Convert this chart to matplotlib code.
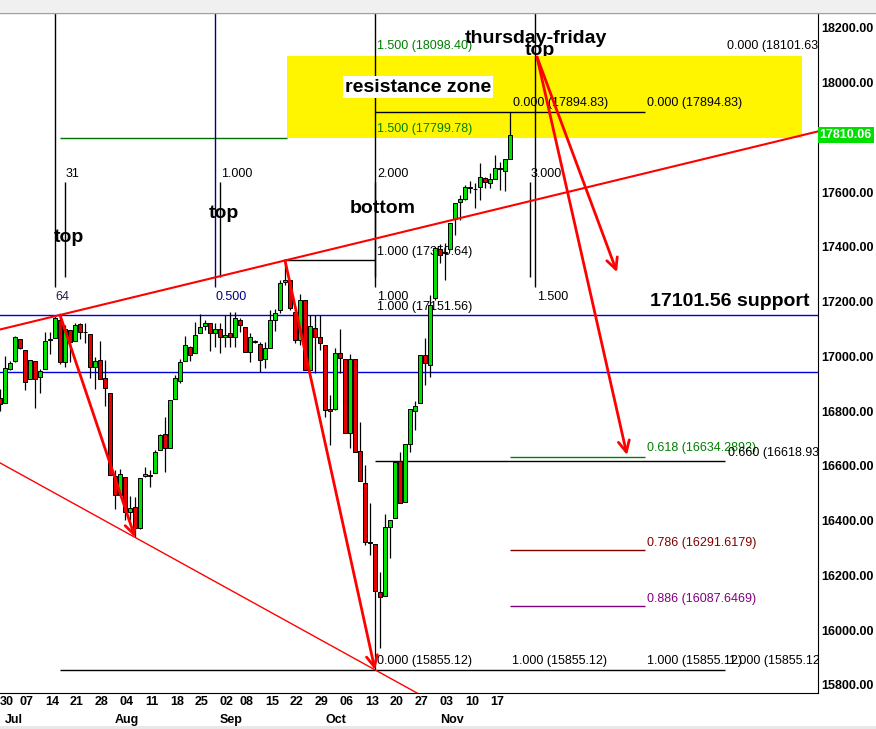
import numpy as np
import pandas as pd
import matplotlib
matplotlib.use("Agg")
import matplotlib.pyplot as plt
from matplotlib.patches import Rectangle
from matplotlib.transforms import blended_transform_factory

plt.rcParams['font.family'] = ['Liberation Sans', 'DejaVu Sans']

# daily candles, 30 Jun - 21 Nov (trading days only)
dates = pd.bdate_range("2014-06-30", "2014-11-21")
dates = dates[~dates.isin(pd.to_datetime(["2014-07-04", "2014-09-01"]))]

opens = [16850, 16831, 16953, 16983, 17062, 17024, 16919, 16983, 16924, 16953,
         17060, 17066, 17133, 16981, 17097, 17056, 17117, 17090, 17081, 16960,
         16987, 16920, 16868, 16563, 16494, 16558, 16430, 16449, 16372, 16565,
         16567, 16573, 16660, 16715, 16666, 16843, 16911, 16984, 17036, 17014,
         17084, 17112, 17121, 17087, 17099, 17070, 17087, 17070, 17133, 17109,
         17017, 17058, 17045, 16991, 17030, 17133, 17170, 17273, 17279, 17164,
         17060, 17206, 16950, 17105, 17070, 17042, 16807, 16807, 17011, 16991,
         16721, 16991, 16654, 16539, 16321, 16313, 16138, 16125, 16378, 16409,
         16618, 16469, 16679, 16801, 16829, 17005, 16969, 17212, 17391, 17377,
         17391, 17501, 17565, 17574, 17616, 17612, 17620, 17653, 17635, 17647,
         17687, 17679, 17721]
highs = [16880, 17001, 16985, 17075, 17064, 17024, 16987, 16983, 16953, 17090,
         17090, 17151, 17151.56, 17115, 17097, 17121, 17123, 17121, 17081, 16999,
         17056, 16987, 16868, 16585, 16587, 16558, 16490, 16488, 16555, 16597,
         16585, 16658, 16716, 16780, 16841, 16932, 16990, 17075, 17038, 17127,
         17154, 17133, 17123, 17121, 17121, 17151, 17161, 17161, 17139, 17109,
         17084, 17060, 17054, 17054, 17170, 17172, 17280, 17350.64, 17280, 17170,
         17228, 17206, 17151, 17151, 17151, 17042, 16859, 17030, 17099, 16991,
         17009, 16991, 16762, 16603, 16466, 16313, 16214, 16426, 16402, 16615,
         16652, 16679, 16807, 16837, 17005, 17066, 17225, 17401, 17411, 17413,
         17486, 17559, 17590, 17626, 17642, 17632, 17708, 17657, 17671, 17736,
         17712, 17720, 17894.83]
lows = [16800, 16831, 16950, 16981, 17028, 16877, 16918, 16810, 16865, 16953,
        17009, 17066, 16971, 16963, 16981, 17056, 17062, 17048, 16920, 16880,
        16916, 16820, 16567, 16441, 16494, 16402, 16402, 16339, 16368, 16561,
        16524, 16573, 16658, 16579, 16666, 16843, 16902, 16984, 16984, 17014,
        17084, 17097, 17021, 17036, 17011, 17036, 17036, 17036, 17090, 17017,
        16981, 17050, 16942, 16957, 17030, 17094, 17158, 17260, 17170, 17050,
        17042, 16950, 16950, 16938, 17023, 16780, 16676, 16804, 16938, 16719,
        16664, 16652, 16546, 16311, 16274, 15855.12, 15933, 16125, 16262, 16409,
        16463, 16469, 16652, 16731, 16829, 16896, 16924, 17208, 17340, 17279,
        17391, 17444, 17498, 17571, 17596, 17541, 17571, 17614, 17614, 17647,
        17608, 17606, 17721]
closes = [16827, 16957, 16975, 17070, 17030, 16908, 16987, 16919, 16948, 17056,
          17062, 17139, 16981, 17099, 17054, 17115, 17090, 17088, 16963, 16983,
          16916, 16883, 16567, 16494, 16569, 16433, 16445, 16372, 16555, 16569,
          16563, 16652, 16713, 16666, 16841, 16920, 16978, 17041, 17005, 17078,
          17106, 17121, 17084, 17099, 17070, 17078, 17072, 17139, 17115, 17017,
          17070, 17052, 16987, 17030, 17133, 17157, 17267, 17280, 17176, 17060,
          17206, 16950, 17112, 17072, 17048, 16804, 16801, 17011, 16995, 16719,
          16991, 16652, 16546, 16323, 16319, 16144, 16120, 16378, 16402, 16613,
          16463, 16679, 16807, 16819, 17005, 16977, 17188, 17395, 17371, 17383,
          17486, 17559, 17575, 17620, 17618, 17610, 17654, 17638, 17647, 17687,
          17685, 17720, 17810.06]

# trendline anchors (bar index, price)
upper_trend_x = [12, 57]
upper_trend_y = [17151.56, 17350.64]
lower_trend_x = [27, 75]
lower_trend_y = [16339, 15855.12]

support_levels = [17151.56, 16942]
last_price = 17810.06

fig = plt.figure(figsize=(8.76, 7.29), dpi=100)
ax = fig.add_axes([0, 36 / 729, 818 / 876, 680 / 729])
ax.set_xlim(0, 163.6)
ax.set_ylim(15770.4, 18254.8)

xs = np.arange(len(dates))
o = np.array(opens); h = np.array(highs); l = np.array(lows); c = np.array(closes)

# resistance zone box
ax.add_patch(Rectangle((57.4, 17799.78), 103, 18098.40 - 17799.78,
                       facecolor='#fff500', edgecolor='none', zorder=0.5))

# horizontal lines
for lvl in support_levels:
    ax.axhline(lvl, color='#0000dd', lw=1, zorder=1)
ax.hlines(17799.78, 12, 57.4, color='#007000', lw=1, zorder=1)
ax.hlines(17894.83, 75, 129, color='black', lw=1, zorder=1)
ax.hlines(17350.64, 57, 75, color='black', lw=1, zorder=1)
ax.hlines(16618.93, 75, 145, color='black', lw=1, zorder=1)
ax.hlines(15855.12, 12, 145, color='black', lw=1, zorder=1)
ax.hlines(16634.2892, 102, 129, color='#008000', lw=1, zorder=1)
ax.hlines(16291.6179, 102, 129, color='#800000', lw=1, zorder=1)
ax.hlines(16087.6469, 102, 129, color='#800080', lw=1, zorder=1)

# fib time zones
for xv, col in zip([11, 43, 75, 107], ['black', '#000080', 'black', 'black']):
    ax.vlines(xv, 17254, 18300, color=col, lw=1, zorder=1)
for xv in [13, 44, 75, 106]:
    ax.vlines(xv, 17290, 17637, color='black', lw=1, zorder=1)

small = dict(fontsize=9, va='center', ha='left', zorder=1.5)
for xv, txt, col in zip([11, 43, 75.4, 107.4], ['64', '0.500', '1.000', '1.500'],
                        ['#202040', '#000080', 'black', 'black']):
    ax.text(xv, 17217, txt, color=col, **small)
for xv, txt in zip([13.2, 44.2, 75.4, 106.2], ['31', '1.000', '2.000', '3.000']):
    ax.text(xv, 17667, txt, color='black', **small)

ax.text(75.4, 18134, '1.500 (18098.40)', color='#008000', **small)
ax.text(75.4, 17831, '1.500 (17799.78)', color='#008000', **small)
ax.text(102.6, 17926, '0.000 (17894.83)', color='black', **small)
ax.text(129.4, 17926, '0.000 (17894.83)', color='black', **small)
ax.text(145.4, 18134, '0.000 (18101.63)', color='black', clip_on=True, **small)
ax.text(75.4, 17382, '1.000 (17350.64)', color='black', **small)
ax.text(75.4, 17181, '1.000 (17151.56)', color='black', **small)
ax.text(129.4, 16666, '0.618 (16634.2892)', color='#008000', **small)
ax.text(145.6, 16647, '0.660 (16618.93)', color='black', clip_on=True, **small)
ax.text(129.4, 16318, '0.786 (16291.6179)', color='#800000', **small)
ax.text(129.4, 16114, '0.886 (16087.6469)', color='#800080', **small)
ax.text(75.4, 15887, '0.000 (15855.12)', color='black', **small)
ax.text(102.4, 15887, '1.000 (15855.12)', color='black', **small)
ax.text(129.4, 15887, '1.000 (15855.12)', color='black', **small)
ax.text(145.8, 15887, '1.000 (15855.12)', color='black', clip_on=True, **small)

# candles
up = c >= o
body_col = np.where(up, '#00e000', '#e60000')
ax.vlines(xs, l, h, color='black', lw=0.9, zorder=3)
ax.bar(xs, np.maximum(np.abs(c - o), 2.5), width=0.7, bottom=np.minimum(o, c),
       color=body_col, edgecolor='black', linewidth=0.7, zorder=4)

# trendlines
xx = np.array([0, 163.6])
s_up = (upper_trend_y[1] - upper_trend_y[0]) / (upper_trend_x[1] - upper_trend_x[0])
ax.plot(xx, upper_trend_y[0] + s_up * (xx - upper_trend_x[0]), color='red', lw=1.5, zorder=5)
s_lo = (lower_trend_y[1] - lower_trend_y[0]) / (lower_trend_x[1] - lower_trend_x[0])
ax.plot(xx, lower_trend_y[0] + s_lo * (xx - lower_trend_x[0]), color='red', lw=1, zorder=5)

# arrows
arr = dict(arrowstyle='->', color='red', lw=2, mutation_scale=20, shrinkA=0, shrinkB=0)
ax.annotate('', xy=(27, 16339), xytext=(12, 17151.56), arrowprops=arr, zorder=6)
ax.annotate('', xy=(75, 15855.12), xytext=(57, 17350.64), arrowprops=arr, zorder=6)
ax.annotate('', xy=(123.4, 17308), xytext=(107.4, 18094), arrowprops=arr, zorder=6)
ax.annotate('', xy=(125.4, 16640), xytext=(107.4, 18094), arrowprops=arr, zorder=6)

# big labels
big = dict(fontsize=14, fontweight='bold', color='black', va='center', zorder=7)
ax.text(10.8, 17433, 'top', ha='left', **big)
ax.text(41.8, 17524, 'top', ha='left', **big)
ax.text(70, 17539, 'bottom', ha='left', **big)
ax.text(69, 17984, 'resistance zone', ha='left',
        bbox=dict(facecolor='white', edgecolor='none', pad=1.5), **big)
ax.text(107.2, 18163, 'thursday-friday', ha='center', **big)
ax.text(108, 18117, 'top', ha='center', fontsize=14, fontweight='bold',
        color='black', va='center', zorder=0.4)
ax.text(130, 17199, '17101.56 support', ha='left', **big)

# axes styling
ax.spines['left'].set_visible(False)
ax.spines['top'].set_visible(False)
ax.yaxis.tick_right()
ax.set_yticks(np.arange(15800, 18201, 200))
ax.set_yticklabels([f'{v:.2f}' for v in np.arange(15800, 18201, 200)],
                   fontsize=9, fontweight='bold')
ax.tick_params(axis='y', length=0, pad=2)

week = dates.to_series().dt.isocalendar().week.values
day_idx = [i for i in range(len(dates)) if i == 0 or week[i] != week[i - 1]]
mon = dates.month.values
mon_idx = [i for i in range(1, len(dates)) if mon[i] != mon[i - 1]]
ax.xaxis.remove_overlapping_locs = False
ax.set_xticks(day_idx)
ax.set_xticklabels([dates[i].strftime('%d') for i in day_idx], fontsize=9, fontweight='bold')
ax.set_xticks(mon_idx, minor=True)
ax.set_xticklabels([dates[i].strftime('%b') for i in mon_idx], minor=True,
                   fontsize=9, fontweight='bold')
ax.tick_params(axis='x', which='major', length=0, pad=2)
ax.tick_params(axis='x', which='minor', length=0, pad=15)
for lbl in ax.get_xticklabels() + ax.get_xticklabels(minor=True):
    lbl.set_ha('left')

# last price tag
trans = blended_transform_factory(ax.transAxes, ax.transData)
ax.text(1.002, last_price, f'{last_price:.2f}', transform=trans, color='white',
        fontsize=9, fontweight='bold', va='center', ha='left', clip_on=False,
        bbox=dict(facecolor='#00e000', edgecolor='none', pad=1.5), zorder=8)

# window frame bands
fig.patches.append(Rectangle((0, 1 - 12 / 729), 1, 12 / 729, transform=fig.transFigure,
                             facecolor='#f0f0f0', edgecolor='none'))
fig.lines.append(plt.Line2D([0, 1], [1 - 13 / 729] * 2, transform=fig.transFigure,
                            color='#a0a0a0', lw=1))
fig.patches.append(Rectangle((0, 0), 1, 3 / 729, transform=fig.transFigure,
                             facecolor='#e8e8e8', edgecolor='none'))

fig.savefig('out.png', dpi=100)
